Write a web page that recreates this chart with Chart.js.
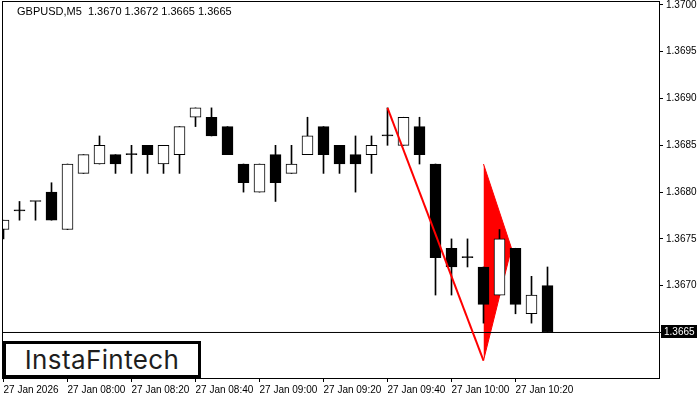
<!DOCTYPE html>
<html>
<head>
<meta charset="utf-8">
<script src="https://cdn.jsdelivr.net/npm/chart.js@4.4.0/dist/chart.umd.min.js"></script>
<style>
html, body { margin: 0; padding: 0; background: #fff; }
#wrap { position: relative; width: 700px; height: 400px; }
#logo {
  position: absolute; left: 3px; top: 341px; width: 198px; height: 37px;
  box-sizing: border-box; border: 3px solid #000; background: #fff;
  font: 400 26px Inter, "Open Sans", sans-serif; color: #1e1e1e;
  line-height: 31px; text-align: center; letter-spacing: 0.4px;
}
</style>
</head>
<body>
<div id="wrap">
  <canvas id="myChart" width="700" height="400"></canvas>
  <div id="logo">InstaFintech</div>
</div>
<script>
var symbol = "GBPUSD,M5";
// one candle every 5 minutes, first one at 07:40
var opens  = [1.3676,1.3678,1.3679,1.3680,1.3676,1.3682,1.3683,1.3684,1.3684,1.3685,1.3683,1.3684,
              1.3688,1.3688,1.3687,1.3683,1.3680,1.3684,1.3682,1.3684,1.3687,1.3685,1.3684,1.3684,
              1.3686,1.3685,1.3687,1.3683,1.3674,1.3673,1.3672,1.3669,1.3674,1.3667,1.3670];
var highs  = [1.3677,1.3679,1.3679,1.3681,1.3683,1.3684,1.3686,1.3684,1.3685,1.3685,1.3685,1.3687,
              1.3689,1.3689,1.3687,1.3683,1.3683,1.3685,1.3685,1.3688,1.3687,1.3685,1.3686,1.3686,
              1.3689,1.3688,1.3688,1.3683,1.3675,1.3675,1.3672,1.3676,1.3674,1.3671,1.3672];
var lows   = [1.3675,1.3677,1.3677,1.3677,1.3676,1.3682,1.3683,1.3682,1.3682,1.3682,1.3682,1.3682,
              1.3687,1.3686,1.3684,1.3680,1.3680,1.3679,1.3682,1.3684,1.3682,1.3682,1.3680,1.3682,
              1.3685,1.3685,1.3683,1.3669,1.3669,1.3672,1.3666,1.3669,1.3667,1.3666,1.3665];
var closes = [1.3677,1.3678,1.3679,1.3677,1.3683,1.3684,1.3685,1.3683,1.3684,1.3684,1.3685,1.3687,
              1.3689,1.3686,1.3684,1.3681,1.3683,1.3681,1.3683,1.3686,1.3684,1.3683,1.3683,1.3685,
              1.3686,1.3688,1.3684,1.3673,1.3672,1.3673,1.3668,1.3675,1.3668,1.3669,1.3665];

var timeTicks  = [0, 4, 8, 12, 16, 20, 24, 28, 32];
var timeLabels = ["27 Jan 2026","27 Jan 08:00","27 Jan 08:20","27 Jan 08:40","27 Jan 09:00",
                  "27 Jan 09:20","27 Jan 09:40","27 Jan 10:00","27 Jan 10:20"];
var priceTicks = [1.3665, 1.3670, 1.3675, 1.3680, 1.3685, 1.3690, 1.3695, 1.3700];

// pennant pattern (pole + flag)
var poleIdx   = [24, 30];
var polePrice = [1.3689, 1.3662];
var flagIdx   = [30, 31.75, 30];
var flagPrice = [1.3683, 1.3674, 1.3662];

var last = closes.length - 1;
var xMin = -0.09375, xMax = 41.03125;
var yMin = 1.366003, yMax = 1.370042;
var txtFont = '"Liberation Sans", sans-serif';

var frame = {
  id: 'frame',
  afterDraw: function(chart) {
    var a = chart.chartArea, c = chart.ctx;
    c.save();
    c.strokeStyle = '#000';
    c.lineWidth = 1;
    c.strokeRect(a.left + 0.5, a.top + 0.5, a.right - a.left - 1, a.bottom - a.top - 1);
    // header
    c.fillStyle = '#000';
    c.font = '11px ' + txtFont;
    c.textBaseline = 'alphabetic';
    c.textAlign = 'left';
    var hdr = symbol + '  ' + [opens[last], highs[last], lows[last], closes[last]].map(function(v){ return v.toFixed(4); }).join(' ');
    c.fillText(hdr, 17, 15);
    // current price box
    var y = Math.round(chart.scales.y.getPixelForValue(closes[last]));
    c.fillRect(661, y - 7, 36, 13);
    c.fillStyle = '#fff';
    c.font = '10px ' + txtFont;
    c.textBaseline = 'middle';
    c.fillText(closes[last].toFixed(4), 664, y);
    c.restore();
  }
};

window.onload = function(){
  const ctx = document.getElementById('myChart');

  var bodies = [], wicks = [], colors = [];
  for (var i = 0; i < opens.length; i++) {
    bodies.push({x: i, y: [opens[i], closes[i]]});
    wicks.push({x: i, y: [lows[i], highs[i]]});
    colors.push(closes[i] > opens[i] ? '#ffffff' : '#000000');
  }

  const config = {
    type: 'bar',
    data: {
      datasets: [
        {
          type: 'line', label: 'flagTop',
          data: [{x: flagIdx[0], y: flagPrice[0]}, {x: flagIdx[1], y: flagPrice[1]}],
          borderColor: '#ff0000', borderWidth: 1, pointRadius: 0, fill: false, order: 5
        },
        {
          type: 'line', label: 'flagBottom',
          data: [{x: flagIdx[2], y: flagPrice[2]}, {x: flagIdx[1], y: flagPrice[1]}],
          borderColor: '#ff0000', borderWidth: 1, pointRadius: 0,
          fill: '-1', backgroundColor: '#ff0000', order: 4
        },
        {
          type: 'line', label: 'price',
          data: [{x: xMin, y: closes[last]}, {x: xMax, y: closes[last]}],
          borderColor: '#000', borderWidth: 1, pointRadius: 0, order: 3
        },
        {
          label: 'wicks', data: wicks, backgroundColor: '#000',
          borderWidth: 0, barThickness: 1, grouped: false, order: 2
        },
        {
          label: 'bodies', data: bodies, backgroundColor: colors,
          borderColor: '#000', borderWidth: 1, borderSkipped: false,
          barThickness: 11, minBarLength: 1, grouped: false, order: 1
        },
        {
          type: 'line', label: 'pole',
          data: [{x: poleIdx[0], y: polePrice[0]}, {x: poleIdx[1], y: polePrice[1]}],
          borderColor: '#ff0000', borderWidth: 2, pointRadius: 0, fill: false, order: 0
        }
      ]
    },
    options: {
      responsive: false,
      animation: false,
      layout: { padding: { left: 2, top: 1, right: 0, bottom: 0 } },
      plugins: { legend: { display: false }, tooltip: { enabled: false } },
      scales: {
        x: {
          type: 'linear', min: xMin, max: xMax, offset: false,
          grid: { drawOnChartArea: false, drawTicks: true, tickLength: 3, color: '#000', offset: false },
          border: { display: false },
          afterBuildTicks: function(s){ s.ticks = timeTicks.map(function(v){ return {value: v}; }); },
          afterFit: function(s){ s.height = 21; s.paddingLeft = 0; s.paddingRight = 0; },
          ticks: {
            autoSkip: false, maxRotation: 0, minRotation: 0, align: 'start', padding: 2,
            color: '#000', font: { family: txtFont, size: 10 },
            callback: function(v, idx){ return timeLabels[idx]; }
          }
        },
        y: {
          position: 'right', min: yMin, max: yMax,
          grid: { drawOnChartArea: false, drawTicks: true, tickLength: 3, color: '#000' },
          border: { display: false },
          afterBuildTicks: function(s){ s.ticks = priceTicks.map(function(v){ return {value: v}; }); },
          afterFit: function(s){ s.width = 40; s.paddingTop = 0; s.paddingBottom = 0; },
          ticks: {
            autoSkip: false, padding: 3, color: '#000', font: { family: txtFont, size: 10 },
            callback: function(v){ return v.toFixed(4); }
          }
        }
      }
    },
    plugins: [frame]
  };

  new Chart(ctx, config);
};
</script>
</body>
</html>
